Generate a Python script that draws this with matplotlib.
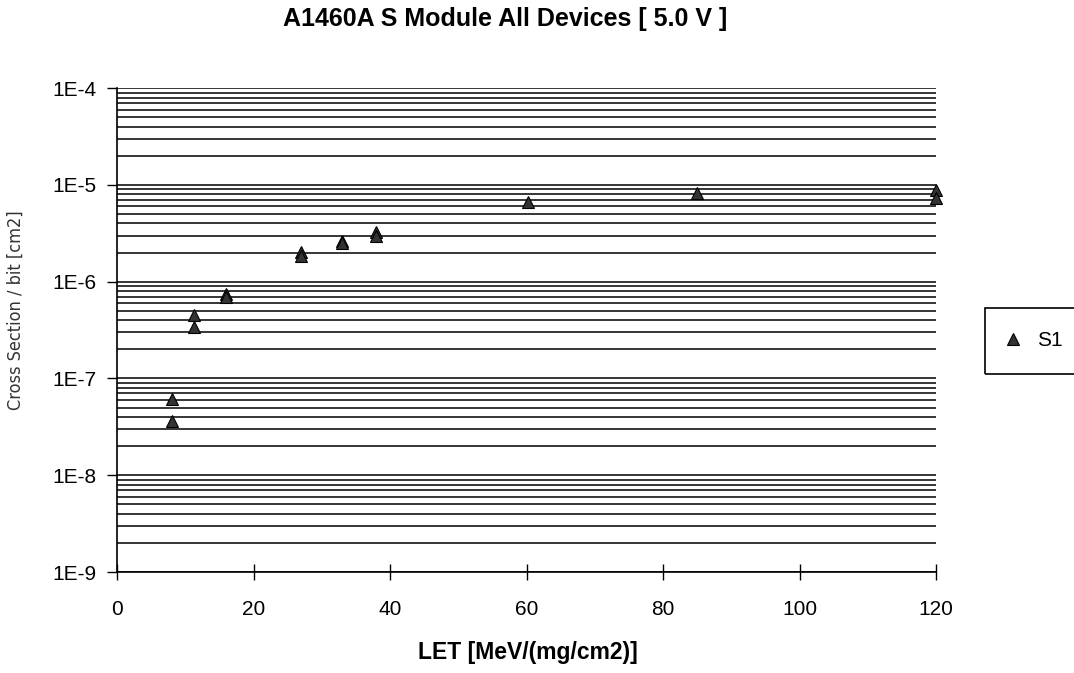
import numpy as np
import matplotlib
matplotlib.use('Agg')
import matplotlib.pyplot as plt
from matplotlib.patches import Rectangle
from matplotlib.ticker import LogLocator, FixedLocator, FuncFormatter

# LET [MeV/(mg/cm2)] vs cross section per bit
let_vals = [8, 8, 11.3, 11.3, 16, 16, 27, 27, 33, 33, 38, 38, 60.2, 85, 120, 120]
xsec_vals = [6.2e-8, 3.6e-8, 4.5e-7, 3.4e-7, 7.5e-7, 7.0e-7, 2.05e-6, 1.85e-6,
             2.65e-6, 2.5e-6, 3.3e-6, 3.0e-6, 6.7e-6, 8.2e-6, 8.8e-6, 7.3e-6]
x_ticks = [0, 20, 40, 60, 80, 100, 120]
y_ticks = [1e-9, 1e-8, 1e-7, 1e-6, 1e-5, 1e-4]
y_labels = ['1E-9', '1E-8', '1E-7', '1E-6', '1E-5', '1E-4']

plt.rcParams['font.family'] = ['Liberation Sans', 'DejaVu Sans']

fig = plt.figure(figsize=(10.74, 6.73), dpi=100)
ax = fig.add_axes([0.109, 0.150, 0.7625, 0.719])

ax.set_yscale('log')
ax.set_xlim(0, 120)
ax.set_ylim(1e-9, 1e-4)

# decade + minor gridlines, all solid black
ax.yaxis.set_major_locator(FixedLocator(y_ticks))
ax.yaxis.set_major_formatter(FuncFormatter(lambda v, p: y_labels[y_ticks.index(v)] if v in y_ticks else ''))
ax.yaxis.set_minor_locator(LogLocator(base=10, subs=np.arange(2, 10)))
ax.yaxis.set_minor_formatter(FuncFormatter(lambda v, p: ''))
ax.grid(True, which='both', axis='y', color='black', linewidth=1.1)
ax.set_axisbelow(True)
ax.tick_params(axis='y', which='minor', length=0)
ax.tick_params(axis='y', which='major', direction='out', length=7, width=1, labelsize=15, pad=8)

ax.xaxis.set_major_locator(FixedLocator(x_ticks))
ax.tick_params(axis='x', direction='inout', length=12, width=1, labelsize=15, pad=14)

for s in ['top', 'right']:
    ax.spines[s].set_visible(False)
ax.spines['left'].set_linewidth(1.2)
ax.spines['bottom'].set_linewidth(1.2)

ax.plot(let_vals, xsec_vals, linestyle='none', marker='^', markersize=8,
        markerfacecolor='#333333', markeredgecolor='black', markeredgewidth=0.8,
        label='S1', clip_on=False, zorder=5)

fig.text(505 / 1074, 1 - 19 / 673, 'A1460A S Module All Devices [ 5.0 V ]',
         ha='center', va='center', fontsize=18, fontweight='bold')
fig.text(528 / 1074, 1 - 652 / 673, 'LET [MeV/(mg/cm2)]',
         ha='center', va='center', fontsize=16.5, fontweight='bold')
fig.text(16 / 1074, 1 - 310 / 673, 'Cross Section / bit [cm2]', rotation=90,
         ha='center', va='center', fontsize=13, fontstretch='condensed',
         family=['Liberation Sans Narrow', 'DejaVu Sans'], color='#333333')

# legend box runs off the right edge in the scan, so draw the frame by hand
leg = fig.legend(loc='center left', bbox_to_anchor=(1000 / 1074, 1 - 341 / 673),
                 fontsize=15, frameon=False, borderpad=0,
                 borderaxespad=0, handletextpad=0.6, handlelength=1.2)
fig.patches.append(Rectangle((985 / 1074, 1 - 374 / 673), 0.2, 66 / 673,
                             transform=fig.transFigure, fill=False,
                             edgecolor='black', linewidth=1.2))

fig.savefig('out.png', dpi=100)
